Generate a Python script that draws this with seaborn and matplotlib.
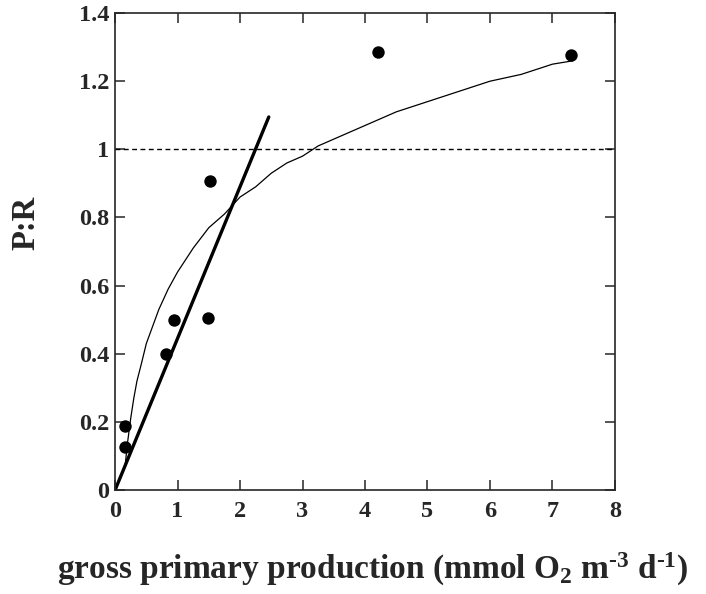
import matplotlib
matplotlib.use("Agg")
import matplotlib.pyplot as plt
import matplotlib.ticker as mticker
import seaborn as sns
import pandas as pd

# observed P:R vs gross primary production
gpp_obs = [0.16, 0.16, 0.82, 0.94, 1.49, 1.52, 4.21, 7.30]
pr_obs = [0.188, 0.126, 0.40, 0.50, 0.505, 0.907, 1.285, 1.277]

# thin fitted curve
curve_x = [0.16, 0.20, 0.25, 0.30, 0.35, 0.42, 0.5, 0.6, 0.7, 0.85, 1.0,
           1.25, 1.5, 1.75, 2.0, 2.25, 2.5, 2.75, 3.0, 3.25, 3.5, 3.75,
           4.0, 4.5, 5.0, 5.5, 6.0, 6.5, 7.0, 7.33]
curve_y = [0.07, 0.14, 0.21, 0.27, 0.32, 0.37, 0.43, 0.48, 0.53, 0.59, 0.64,
           0.71, 0.77, 0.81, 0.86, 0.89, 0.93, 0.96, 0.98, 1.01, 1.03, 1.05,
           1.07, 1.11, 1.14, 1.17, 1.20, 1.22, 1.25, 1.26]

# thick straight line
line_x = [0.0, 2.46]
line_y = [0.0, 1.095]

x_ticks = [0, 1, 2, 3, 4, 5, 6, 7, 8]
y_ticks = [0, 0.2, 0.4, 0.6, 0.8, 1.0, 1.2, 1.4]

sns.set_style("ticks")
plt.rcParams['font.family'] = ['Liberation Serif', 'DejaVu Serif']
plt.rcParams['font.weight'] = 'bold'
plt.rcParams['mathtext.fontset'] = 'custom'
plt.rcParams['mathtext.rm'] = 'Liberation Serif:bold'
plt.rcParams['mathtext.bf'] = 'Liberation Serif:bold'
plt.rcParams['mathtext.default'] = 'bf'

fig = plt.figure(figsize=(7.06, 5.94), dpi=100)
ax = fig.add_axes([0.163, 0.175, 0.708, 0.803])

ax.axhline(1.0, color='black', lw=1.0, ls=(0, (3.5, 2.5)), zorder=1)
sns.lineplot(x=curve_x, y=curve_y, ax=ax, color='black', lw=0.9, sort=False)
sns.lineplot(x=line_x, y=line_y, ax=ax, color='black', lw=2.4, sort=False)
df = pd.DataFrame({'gpp': gpp_obs, 'pr': pr_obs})
sns.scatterplot(data=df, x='gpp', y='pr', ax=ax, color='black', s=80,
                edgecolor='black', linewidth=0, zorder=3)

ax.set_xlim(0, 8)
ax.set_ylim(0, 1.4)
ax.set_xticks(x_ticks)
ax.set_yticks(y_ticks)
ax.yaxis.set_major_formatter(mticker.FormatStrFormatter('%g'))
ax.tick_params(direction='in', length=7, width=1.1, top=True, right=True,
               labelsize=17.5)
ax.tick_params(axis='x', pad=8)
ax.tick_params(axis='y', pad=4)
for lab in ax.get_xticklabels() + ax.get_yticklabels():
    lab.set_fontweight('bold')
for sp in ax.spines.values():
    sp.set_visible(True)
    sp.set_linewidth(1.2)

ax.set_xlabel(r'gross primary production (mmol O$_{2}$ m$^{\text{-}3}$ d$^{\text{-}1}$)',
              fontsize=24, fontweight='bold')
ax.xaxis.set_label_coords(0.515, -0.128)
ax.set_ylabel('P:R', fontsize=23.5, fontweight='bold')
ax.yaxis.set_label_coords(-0.148, 0.56)

fig.savefig('out.png', dpi=100)
